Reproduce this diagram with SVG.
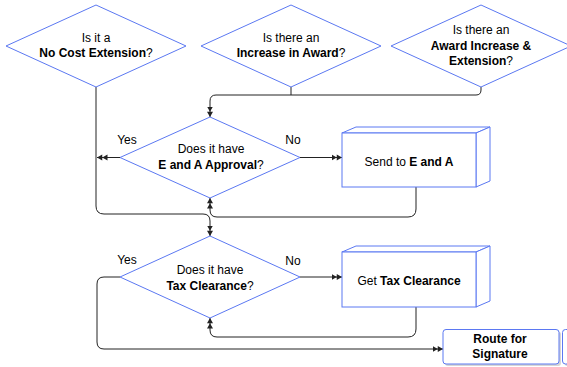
<svg xmlns="http://www.w3.org/2000/svg" width="567" height="367" viewBox="0 0 567 367">
<style>
.shape{fill:#ffffff;stroke:#5b78f2;stroke-width:1}
.cubeside{fill:#ffffff;stroke:#5b78f2;stroke-width:1;stroke-linejoin:round}
.t{font-family:"Liberation Sans",Arial,Helvetica,sans-serif;font-size:12px;fill:#000;text-anchor:middle}
.b{font-weight:bold}
.lbl{font-family:"Liberation Sans",Arial,Helvetica,sans-serif;font-size:12px;fill:#000;text-anchor:middle}
.c{fill:none;stroke:#222;stroke-width:1}
</style>
<defs>
<marker id="dbl" markerUnits="userSpaceOnUse" markerWidth="11" markerHeight="7" refX="10.5" refY="3.5" orient="auto" viewBox="0 0 11 7">
<path d="M0,0.5 L5.25,3.5 L0,6.5 Z M5.25,0.5 L10.5,3.5 L5.25,6.5 Z" fill="#222"/>
</marker>
</defs>
<g id="connectors">
<path class="c" d="M291,87 L291,95"/>
<path class="c" d="M481,87 L481,90 Q481,95 476,95 L216,95 Q210,95 210,101 L210,117" marker-end="url(#dbl)"/>
<path class="c" d="M120,157.5 L97,157.5" marker-end="url(#dbl)"/>
<path class="c" d="M300,157.5 L342,157.5" marker-end="url(#dbl)"/>
<path class="c" d="M96,87 L96,206 Q96,214 104,214 L203,214 Q210,214 210,221 L210,236" marker-end="url(#dbl)"/>
<path class="c" d="M416,187 L416,209 Q416,217 408,217 L217,217 Q210,217 210,210 L210,198" marker-end="url(#dbl)"/>
<path class="c" d="M300,277 L342,277" marker-end="url(#dbl)"/>
<path class="c" d="M416,307 L416,329 Q416,337 408,337 L217,337 Q210,337 210,330 L210,318" marker-end="url(#dbl)"/>
<path class="c" d="M120,277 L104,277 Q97,277 97,284 L97,342 Q97,349 104,349 L443,349" marker-end="url(#dbl)"/>
</g>
<g id="node-no-cost">
<polygon class="shape" points="6,46 96,5 186,46 96,87"/>
<text class="t" x="96" y="42">Is it a</text>
<text class="t" x="96" y="57"><tspan class="b">No Cost Extension</tspan>?</text>
</g>
<g id="node-increase">
<polygon class="shape" points="201,46 291,5 381,46 291,87"/>
<text class="t" x="291" y="42">Is there an</text>
<text class="t" x="291" y="57"><tspan class="b">Increase in Award</tspan>?</text>
</g>
<g id="node-award-ext">
<polygon class="shape" points="391,46 481,5 571,46 481,87"/>
<text class="t" x="481" y="34">Is there an</text>
<text class="t b" x="481" y="49.5">Award Increase &amp;</text>
<text class="t" x="481" y="65"><tspan class="b">Extension</tspan>?</text>
</g>
<g id="node-ea-approval">
<polygon class="shape" points="120,157.5 210,117 300,157.5 210,198"/>
<text class="t" x="211" y="153">Does it have</text>
<text class="t" x="211" y="168.5"><tspan class="b">E and A Approval</tspan>?</text>
<text class="lbl" x="127" y="144">Yes</text>
<text class="lbl" x="293" y="144">No</text>
</g>
<g id="node-send-ea">
<polygon class="cubeside" points="342,133 356,127 490,127 476,133"/>
<polygon class="cubeside" points="476,133 490,127 490,181 476,187"/>
<rect class="shape" x="342" y="133" width="134" height="54"/>
<text class="t" x="409" y="166">Send to <tspan class="b">E and A</tspan></text>
</g>
<g id="node-tax">
<polygon class="shape" points="120,277 210,236 300,277 210,318"/>
<text class="t" x="210" y="274">Does it have</text>
<text class="t" x="210" y="289.5"><tspan class="b">Tax Clearance</tspan>?</text>
<text class="lbl" x="127" y="264">Yes</text>
<text class="lbl" x="293" y="265">No</text>
</g>
<g id="node-get-tax">
<polygon class="cubeside" points="342,252 356,246 490,246 476,252"/>
<polygon class="cubeside" points="476,252 490,246 490,301 476,307"/>
<rect class="shape" x="342" y="252" width="134" height="55"/>
<text class="t" x="409" y="285">Get <tspan class="b">Tax Clearance</tspan></text>
</g>
<g id="node-route">
<rect x="564.5" y="331" width="40" height="35" rx="3" fill="#bbb" opacity="0.6"/>
<rect class="shape" x="562.5" y="329.5" width="40" height="34.5" rx="3"/>
<rect x="445" y="331.5" width="116" height="34.5" rx="3" fill="#bbb" opacity="0.6"/>
<rect class="shape" x="443" y="329.5" width="116" height="34.5" rx="3"/>
<text class="t b" x="500" y="343">Route for</text>
<text class="t b" x="500" y="357.5">Signature</text>
</g>
</svg>
